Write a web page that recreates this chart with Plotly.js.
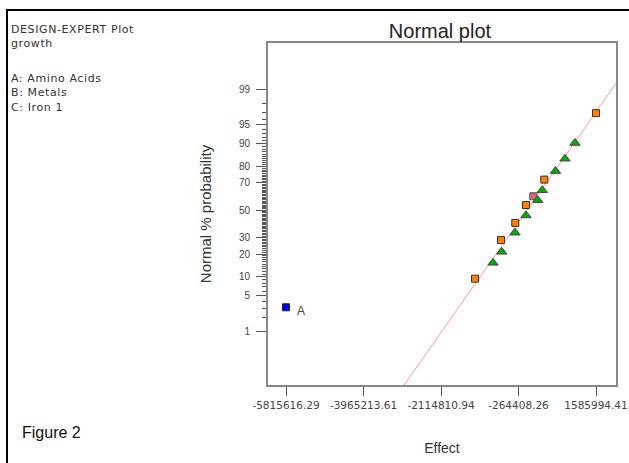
<!DOCTYPE html>
<html>
<head>
<meta charset="utf-8">
<script src="https://cdn.plot.ly/plotly-3.0.1.min.js"></script>
<style>
  html, body { margin: 0; padding: 0; background: #fff; }
  #chart { width: 629px; height: 463px; }
</style>
</head>
<body>
<div id="chart"></div>
<script>
// ---- data ----
const pointA_effect = [-5815616.29];
const pointA_pct = [3.1];
const pointA_label = ['A'];

const orangeEffect = [-1303050, -682270, -340850, -85380, 351560, 1585994.41];
const orangePct = [9.4, 28.3, 40.4, 54.0, 72.2, 96.9];

const greenEffect = [-873280, -665560, -348010, -85380, 193970, 303800, 618970, 845790, 1084550];
const greenPct = [15.6, 21.2, 33.3, 46.0, 57.7, 65.0, 77.4, 83.9, 90.2];

const pinkEffect = [88920];
const pinkPct = [60.6];

const fitEffect = [-3307650, 3181220];
const fitPct = [0.01, 99.99];

const xTickVals = [-5815616.29, -3965213.61, -2114810.94, -264408.26, 1585994.41];
const xTickLabels = ['-5815616.29', '-3965213.61', '-2114810.94', '-264408.26', '1585994.41'];

const yTickPct = [1, 5, 10, 20, 30, 50, 70, 80, 90, 95, 99];
const yTickLabels = ['1', '5', '10', '20', '30', '50', '70', '80', '90', '95', '99'];
const yMinorPct = [2, 3, 4, 6, 7, 8, 9, 11, 12, 13, 14, 15, 16, 17, 18, 19, 21, 22, 23, 24, 25, 26, 27, 28, 29,
  31, 32, 33, 34, 35, 36, 37, 38, 39, 40, 41, 42, 43, 44, 45, 46, 47, 48, 49, 51, 52, 53, 54, 55, 56, 57, 58, 59,
  60, 61, 62, 63, 64, 65, 66, 67, 68, 69, 71, 72, 73, 74, 75, 76, 77, 78, 79, 81, 82, 83, 84, 85, 86, 87, 88, 89,
  91, 92, 93, 94, 96, 97, 98];

const infoHeader = ['DESIGN-EXPERT Plot', 'growth'];
const infoFactors = ['A: Amino Acids', 'B: Metals', 'C: Iron 1'];

// ---- normal probability scale (inverse normal CDF, Acklam) ----
function probit(pct) {
  const p = pct / 100;
  const a = [-3.969683028665376e+01, 2.209460984245205e+02, -2.759285104469687e+02, 1.383577518672690e+02, -3.066479806614716e+01, 2.506628277459239e+00];
  const b = [-5.447609879822406e+01, 1.615858368580409e+02, -1.556989798598866e+02, 6.680131188771972e+01, -1.328068155288572e+01];
  const c = [-7.784894002430293e-03, -3.223964580411365e-01, -2.400758277161838e+00, -2.549671010243023e+00, 4.374664141464968e+00, 2.938163982698783e+00];
  const d = [7.784695709041462e-03, 3.224671290700398e-01, 2.445134137142996e+00, 3.754408661907416e+00];
  const pl = 0.02425, ph = 1 - pl;
  let q, r;
  if (p < pl) {
    q = Math.sqrt(-2 * Math.log(p));
    return (((((c[0]*q+c[1])*q+c[2])*q+c[3])*q+c[4])*q+c[5]) / ((((d[0]*q+d[1])*q+d[2])*q+d[3])*q+1);
  } else if (p <= ph) {
    q = p - 0.5; r = q * q;
    return (((((a[0]*r+a[1])*r+a[2])*r+a[3])*r+a[4])*r+a[5])*q / (((((b[0]*r+b[1])*r+b[2])*r+b[3])*r+b[4])*r+1);
  } else {
    q = Math.sqrt(-2 * Math.log(1 - p));
    return -(((((c[0]*q+c[1])*q+c[2])*q+c[3])*q+c[4])*q+c[5]) / ((((d[0]*q+d[1])*q+d[2])*q+d[3])*q+1);
  }
}
const Z = arr => arr.map(probit);

// ---- layout geometry helpers (pixel -> paper) ----
const W = 629, H = 463, L = 268, R = 13, T = 43, B = 78;
const pw = W - L - R, ph = H - T - B;
const px = x => (x - L) / pw;
const py = y => (H - B - y) / ph;

const traces = [
  { x: fitEffect, y: Z(fitPct), mode: 'lines', line: { color: '#ff9a9a', width: 1 }, hoverinfo: 'skip' },
  { x: pinkEffect, y: Z(pinkPct), mode: 'markers',
    marker: { symbol: 'square', size: 7, color: '#d06a7a', line: { color: '#555', width: 1 } } },
  { x: orangeEffect, y: Z(orangePct), mode: 'markers',
    marker: { symbol: 'square', size: 7, color: '#ff8000', line: { color: '#333', width: 1 } } },
  { x: greenEffect, y: Z(greenPct), mode: 'markers',
    marker: { symbol: 'triangle-up', size: 9, color: '#00b000', line: { color: '#444', width: 1 } } },
  { x: pointA_effect, y: Z(pointA_pct), mode: 'markers',
    marker: { symbol: 'square', size: 7, color: '#0000ff', line: { color: '#222', width: 1 } } }
];

const spaced = t => '<span style="letter-spacing:0.6px">' + t + '</span>';
const infoFont = { family: 'DejaVu Sans, Arial', size: 11, color: '#333' };
const annotations = [
  { xref: 'paper', yref: 'paper', x: px(10), y: py(22), xanchor: 'left', yanchor: 'top', align: 'left',
    text: infoHeader.map(spaced).join('<br>'), showarrow: false, borderpad: 0, font: infoFont },
  { xref: 'paper', yref: 'paper', x: px(10), y: py(71), xanchor: 'left', yanchor: 'top', align: 'left',
    text: infoFactors.map(spaced).join('<br>'), showarrow: false, borderpad: 0, font: infoFont },
  { xref: 'paper', yref: 'paper', x: px(20), y: py(439 + 4), xanchor: 'left', yanchor: 'bottom',
    text: 'Figure 2', showarrow: false, font: { family: 'Arial', size: 16, color: '#111' } },
  { x: pointA_effect[0], y: probit(pointA_pct[0]), text: pointA_label[0], showarrow: false,
    xanchor: 'left', xshift: 9, yshift: -4, font: { family: 'Arial', size: 12, color: '#444' } }
];

const layout = {
  width: W, height: H,
  margin: { l: L, r: R, t: T, b: B, pad: 0 },
  paper_bgcolor: '#fff', plot_bgcolor: '#fff',
  showlegend: false,
  font: { family: 'Arial', color: '#333' },
  title: { text: 'Normal plot', x: 440 / W, xanchor: 'center', y: 1 - 31 / H, yanchor: 'middle',
    font: { family: 'Arial', size: 20, color: '#222' } },
  xaxis: {
    range: [-6245384, 2063464], showgrid: false, zeroline: false,
    showline: true, linecolor: '#888', linewidth: 2, mirror: true,
    tickmode: 'array', tickvals: xTickVals, ticktext: xTickLabels,
    ticks: 'outside', ticklen: 9, tickwidth: 1, tickcolor: '#555',
    ticklabeloverflow: 'allow',
    tickfont: { family: 'DejaVu Sans', size: 10.5, color: '#444' },
    title: { text: 'Effect', standoff: 34, font: { family: 'Arial', size: 14, color: '#333' } }
  },
  yaxis: {
    range: [-3.36, 3.215], showgrid: false, zeroline: false,
    showline: true, linecolor: '#888', linewidth: 2, mirror: true,
    tickmode: 'array', tickvals: Z(yTickPct), ticktext: yTickLabels,
    ticks: 'outside', ticklen: 10, tickwidth: 1, tickcolor: '#555',
    ticklabelstandoff: 4,
    tickfont: { family: 'Arial', size: 10, color: '#444' },
    minor: { tickmode: 'array', tickvals: Z(yMinorPct), ticks: 'outside', ticklen: 4, tickwidth: 1, tickcolor: '#555', showgrid: false },
    title: { text: 'Normal % probability', standoff: 24, font: { family: 'Arial', size: 15, color: '#333' } }
  },
  shapes: [
    { type: 'line', xref: 'paper', yref: 'paper', x0: px(6), x1: px(629), y0: py(10), y1: py(10), line: { color: '#000', width: 2 } },
    { type: 'line', xref: 'paper', yref: 'paper', x0: px(7), x1: px(7), y0: py(9), y1: py(463), line: { color: '#000', width: 2 } }
  ],
  annotations: annotations
};

Plotly.newPlot('chart', traces, layout, { displayModeBar: false, staticPlot: true });
</script>
</body>
</html>
